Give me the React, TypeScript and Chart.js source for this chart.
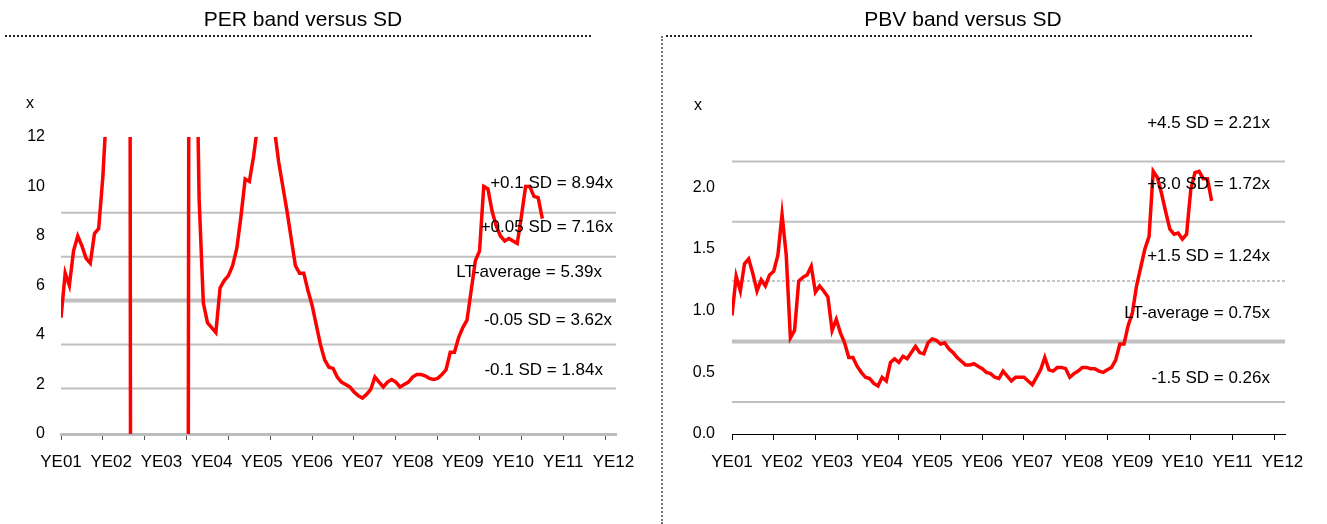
import React, { useEffect, useRef } from 'react';
import { Chart, registerables } from 'chart.js';

Chart.register(...registerables);

const FONT = '"Liberation Sans", Arial, Helvetica, sans-serif';

// x axis runs in months from YE01
const X_MAX = 132.6;
const yearLabels = ['YE01', 'YE02', 'YE03', 'YE04', 'YE05', 'YE06', 'YE07', 'YE08', 'YE09', 'YE10', 'YE11', 'YE12'];
const yearLabelMonths = [0, 12, 24, 36, 48, 60, 72, 84, 96, 108, 120, 132];
const tickMarkMonths = [0, 10, 20, 30, 40, 50, 60, 70, 80, 90, 100, 110, 120, 130];

// PER (x), monthly
const perValues = [
  4.7, 6.5, 6.0, 7.4, 8.0, 7.6, 7.1, 6.9, 8.1, 8.3,
  10.4, 13.5, 16, 20, 28, 45, 90, -60, -40, -35,
  -30, -28, -25, -25, -30, -35, -40, -45, -50, -55,
  -50, 70, 20, 9.5, 5.3, 4.5, 4.3, 4.1, 5.9, 6.2,
  6.4, 6.8, 7.5, 8.8, 10.3, 10.2, 11.2, 12.5, 16, 20,
  16, 12.3, 11.0, 10.0, 9.0, 7.9, 6.8, 6.5, 6.5, 5.8,
  5.2, 4.4, 3.6, 3.0, 2.7, 2.65, 2.3, 2.1, 2.0, 1.9,
  1.7, 1.55, 1.45, 1.6, 1.8, 2.3, 2.1, 1.9, 2.1, 2.2,
  2.1, 1.9, 2.0, 2.1, 2.3, 2.4, 2.4, 2.35, 2.25, 2.2,
  2.25, 2.4, 2.6, 3.3, 3.3, 3.9, 4.3, 4.6, 5.8, 7.0,
  7.4, 10.0, 9.9, 9.0, 8.4, 8.0, 7.8, 7.9, 7.8, 7.7,
  8.8, 10.0, 10.0, 9.6, 9.55, 8.7,
];
const perBandValues = [8.94, 7.16, 5.39, 3.62, 1.84];
const perBandLabels = ['+0.1 SD = 8.94x', '+0.05 SD = 7.16x', 'LT-average = 5.39x', '-0.05 SD = 3.62x', '-0.1 SD = 1.84x'];
const perYTicks = [0, 2, 4, 6, 8, 10, 12];

// PBV (x), monthly
const pbvValues = [
  0.96, 1.28, 1.16, 1.38, 1.42, 1.3, 1.16, 1.25, 1.2, 1.29,
  1.32, 1.45, 1.78, 1.45, 0.78, 0.84, 1.24, 1.27, 1.29, 1.36,
  1.15, 1.2, 1.16, 1.11, 0.84, 0.93, 0.82, 0.74, 0.62, 0.62,
  0.55, 0.5, 0.46, 0.45, 0.41, 0.39, 0.46, 0.43, 0.58, 0.61,
  0.58, 0.63, 0.61, 0.66, 0.71, 0.66, 0.65, 0.74, 0.77, 0.76,
  0.73, 0.74, 0.69, 0.66, 0.62, 0.59, 0.56, 0.56, 0.57, 0.55,
  0.53, 0.5, 0.49, 0.46, 0.45, 0.51, 0.47, 0.43, 0.46, 0.46,
  0.46, 0.43, 0.4, 0.46, 0.52, 0.62, 0.52, 0.51, 0.54, 0.54,
  0.53, 0.46, 0.49, 0.51, 0.54, 0.54, 0.53, 0.53, 0.51, 0.5,
  0.52, 0.54, 0.6, 0.73, 0.73, 0.88, 0.98, 1.2, 1.35, 1.5,
  1.6, 2.13, 2.08, 1.95, 1.8, 1.66, 1.62, 1.63, 1.58, 1.62,
  1.98, 2.12, 2.13, 2.07, 2.07, 1.89,
];
const pbvBandValues = [2.21, 1.72, 1.24, 0.75, 0.26];
const pbvBandLabels = ['+4.5 SD = 2.21x', '+3.0 SD = 1.72x', '+1.5 SD = 1.24x', 'LT-average = 0.75x', '-1.5 SD = 0.26x'];
const pbvYTicks = [0, 0.5, 1.0, 1.5, 2.0];

type PanelProps = {
  left: number;
  width: number;
  values: number[];
  bandValues: number[];
  bandLabels: string[];
  labelDx: number[];
  labelDy: number[];
  thickIdx: number;
  dashedIdx: number;
  yMax: number;
  yTicks: number[];
  yDecimals: number;
  yAxisWidth: number;
  yPad: number;
  padTop: number;
  padRight: number;
  axisColor: string;
  axisWidth: number;
  tickColor: string;
  xLabelDx: number;
  xLabelDy: number;
};

function BandChart(p: PanelProps) {
  const ref = useRef<HTMLCanvasElement | null>(null);
  useEffect(() => {
    const canvas = ref.current;
    if (!canvas) return;
    const datasets: any[] = [
      {
        data: p.values.map((v, i) => ({ x: i, y: v })),
        borderColor: '#ff0000',
        borderWidth: 3.5,
        pointRadius: 0,
        tension: 0,
      },
    ];
    p.bandValues.forEach((b, i) => {
      datasets.push({
        data: [
          { x: 0, y: b },
          { x: X_MAX, y: b },
        ],
        borderColor: i === p.dashedIdx ? '#c4c4c4' : '#c0c0c0',
        borderWidth: i === p.thickIdx ? 4 : 2,
        borderDash: i === p.dashedIdx ? [3, 2] : [],
        pointRadius: 0,
      });
    });
    const textPlugin = {
      id: 'bandText',
      afterDatasetsDraw(chart: any) {
        const ctx = chart.ctx;
        const ys = chart.scales.y;
        const area = chart.chartArea;
        ctx.save();
        ctx.fillStyle = '#000';
        ctx.font = `17px ${FONT}`;
        ctx.textAlign = 'right';
        ctx.textBaseline = 'middle';
        p.bandValues.forEach((b, i) => {
          ctx.fillText(p.bandLabels[i], area.right + p.labelDx[i], ys.getPixelForValue(b) + p.labelDy[i]);
        });
        ctx.font = `16px ${FONT}`;
        ctx.textAlign = 'center';
        ctx.fillText('x', area.left + p.xLabelDx, area.top + p.xLabelDy);
        ctx.restore();
      },
    };
    const chart = new Chart(canvas, {
      type: 'line',
      data: { datasets },
      options: {
        animation: false,
        responsive: false,
        events: [],
        layout: { padding: { top: p.padTop, right: p.padRight, bottom: 44, left: 0 } },
        plugins: { legend: { display: false }, tooltip: { enabled: false } },
        scales: {
          x: {
            type: 'linear',
            min: 0,
            max: X_MAX,
            position: 'bottom',
            weight: 0,
            afterBuildTicks: (s: any) => {
              s.ticks = tickMarkMonths.map((v) => ({ value: v }));
            },
            afterFit: (s: any) => {
              s.height = 6;
            },
            ticks: { display: false },
            grid: {
              display: true,
              drawOnChartArea: false,
              drawTicks: true,
              tickLength: 6,
              color: p.tickColor,
              lineWidth: 1,
            },
            border: { display: true, color: p.axisColor, width: p.axisWidth },
          },
          x2: {
            type: 'linear',
            min: 0,
            max: X_MAX,
            position: 'bottom',
            weight: 1,
            afterBuildTicks: (s: any) => {
              s.ticks = yearLabelMonths.map((v) => ({ value: v }));
            },
            afterFit: (s: any) => {
              s.height = 40;
            },
            ticks: {
              autoSkip: false,
              maxRotation: 0,
              minRotation: 0,
              padding: 12,
              color: '#000',
              font: { family: FONT, size: 17 },
              callback: (_v: any, i: number) => yearLabels[i],
            },
            grid: { display: false, drawTicks: false },
            border: { display: false },
          },
          y: {
            type: 'linear',
            min: 0,
            max: p.yMax,
            afterBuildTicks: (s: any) => {
              s.ticks = p.yTicks.map((v) => ({ value: v }));
            },
            afterFit: (s: any) => {
              s.width = p.yAxisWidth;
            },
            ticks: {
              padding: p.yPad,
              color: '#000',
              font: { family: FONT, size: 16 },
              callback: (v: any) => Number(v).toFixed(p.yDecimals),
            },
            grid: { display: false, drawTicks: false },
            border: { display: false },
          },
        },
      } as any,
      plugins: [textPlugin],
    });
    return () => chart.destroy();
  }, []);
  return (
    <canvas
      ref={ref}
      width={p.width}
      height={524}
      style={{ position: 'absolute', left: p.left, top: 0, width: p.width, height: 524 }}
    />
  );
}

const titleStyle: React.CSSProperties = {
  position: 'absolute',
  top: 6,
  height: 26,
  lineHeight: '26px',
  fontFamily: FONT,
  fontSize: 21,
  color: '#000',
  textAlign: 'center',
  whiteSpace: 'nowrap',
};

export default function App() {
  return (
    <div style={{ position: 'absolute', left: 0, top: 0, width: 1327, height: 524, background: '#fff', overflow: 'hidden' }}>
      <BandChart
        left={0}
        width={650}
        values={perValues}
        bandValues={perBandValues}
        bandLabels={perBandLabels}
        labelDx={[-3, -3, -14, -4, -13]}
        labelDy={[-29, -29, -28, -24, -18]}
        thickIdx={2}
        dashedIdx={-1}
        yMax={12}
        yTicks={perYTicks}
        yDecimals={0}
        yAxisWidth={61}
        yPad={16}
        padTop={137}
        padRight={34}
        axisColor="#bdbdbd"
        axisWidth={3}
        tickColor="#555555"
        xLabelDx={-31}
        xLabelDy={-33}
      />
      <BandChart
        left={664}
        width={663}
        values={pbvValues}
        bandValues={pbvBandValues}
        bandLabels={pbvBandLabels}
        labelDx={[-15, -15, -15, -15, -15]}
        labelDy={[-38, -38, -25, -28, -24]}
        thickIdx={3}
        dashedIdx={2}
        yMax={2.4}
        yTicks={pbvYTicks}
        yDecimals={1}
        yAxisWidth={68}
        yPad={17}
        padTop={138}
        padRight={42}
        axisColor="#000000"
        axisWidth={1}
        tickColor="#000000"
        xLabelDx={-34}
        xLabelDy={-32}
      />
      <div style={{ ...titleStyle, left: 103, width: 400 }}>PER band versus SD</div>
      <div style={{ ...titleStyle, left: 763, width: 400 }}>PBV band versus SD</div>
      <div style={{ position: 'absolute', left: 5, top: 35, width: 586, height: 0, borderTop: '2px dotted #222' }} />
      <div style={{ position: 'absolute', left: 666, top: 35, width: 586, height: 0, borderTop: '2px dotted #222' }} />
      <div style={{ position: 'absolute', left: 661, top: 36, width: 0, height: 488, borderLeft: '2px dotted #777' }} />
    </div>
  );
}
